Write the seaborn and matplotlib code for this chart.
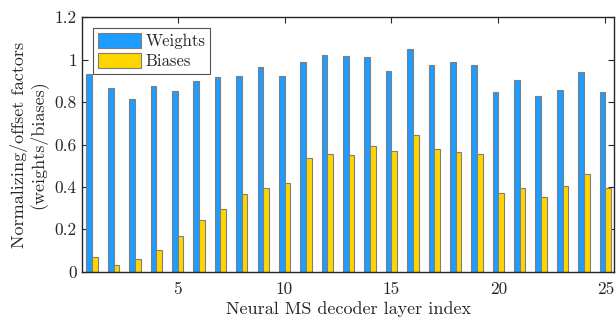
import numpy as np
import pandas as pd
import matplotlib
matplotlib.use("Agg")
import matplotlib.pyplot as plt
import seaborn as sns

layers = list(range(1, 26))
weights = [0.931, 0.868, 0.816, 0.874, 0.852, 0.901, 0.918, 0.921, 0.966, 0.921,
           0.988, 1.022, 1.016, 1.014, 0.948, 1.049, 0.975, 0.989, 0.977, 0.848,
           0.904, 0.827, 0.857, 0.942, 0.848]
biases = [0.071, 0.032, 0.061, 0.102, 0.167, 0.242, 0.294, 0.365, 0.396, 0.418,
          0.536, 0.555, 0.549, 0.593, 0.569, 0.643, 0.580, 0.563, 0.557, 0.370,
          0.395, 0.352, 0.403, 0.461, 0.393]
series = ["Weights", "Biases"]
x_ticks = [5, 10, 15, 20, 25]
y_ticks = [0, 0.2, 0.4, 0.6, 0.8, 1.0, 1.2]
y_tick_labels = ["0", "0.2", "0.4", "0.6", "0.8", "1", "1.2"]

df = pd.DataFrame({
    "layer": layers * 2,
    "value": weights + biases,
    "series": [series[0]] * len(layers) + [series[1]] * len(layers),
})

sns.set_style("white")
plt.rcParams["font.family"] = ["cmr10", "DejaVu Serif"]
plt.rcParams["axes.formatter.use_mathtext"] = True

fig = plt.figure(figsize=(6.16, 3.23), dpi=100)
ax = fig.add_axes([0.1336, 0.1588, 0.8632, 0.7876])

palette = {"Weights": "#1E9CFF", "Biases": "#FFD500"}
sns.barplot(data=df, x="layer", y="value", hue="series", palette=palette,
            native_scale=True, width=0.53, dodge=True, gap=0,
            edgecolor="#7f7f7f", linewidth=0.8, saturation=1, ax=ax,
            errorbar=None)

ax.set_xlim(0.54, 25.41)
ax.set_ylim(0, 1.2)
ax.set_xticks(x_ticks)
ax.set_xticklabels([str(t) for t in x_ticks])
ax.set_yticks(y_ticks)
ax.set_yticklabels(y_tick_labels)
ax.tick_params(direction="in", length=4, width=0.8, colors="#262626",
               labelsize=12.5, top=True, right=True, bottom=True, left=True,
               labelcolor="#262626")
ax.tick_params(axis="x", pad=7)
ax.tick_params(axis="y", pad=4)
for s in ax.spines.values():
    s.set_visible(True)
    s.set_color("#262626")
    s.set_linewidth(1.0)

ax.set_xlabel("Neural MS decoder layer index", fontsize=13, color="#262626", labelpad=3)
ax.set_ylabel("Normalizing/offset factors\n(weights/biases)", fontsize=13,
              color="#262626", labelpad=5, linespacing=1.05)

leg = ax.legend(loc="upper left", bbox_to_anchor=(0.020, 0.958), fontsize=12,
                frameon=True, fancybox=False, edgecolor="#262626",
                handlelength=2.6, handleheight=1.0, handletextpad=0.25,
                borderpad=0.3, labelspacing=0.25, borderaxespad=0)
leg.get_frame().set_linewidth(0.8)
leg.set_title(None)

fig.savefig("out.png", dpi=100)
